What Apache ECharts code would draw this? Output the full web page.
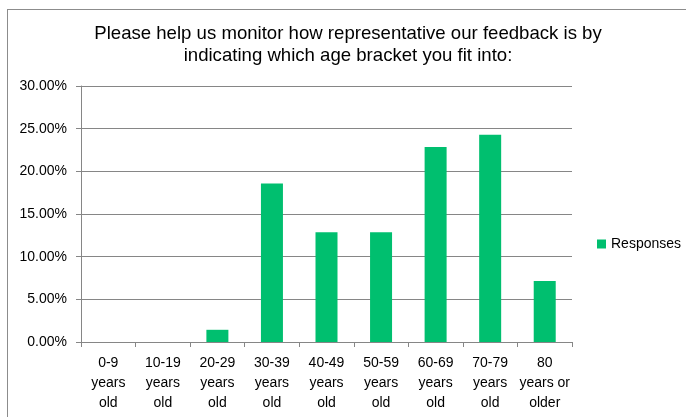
<!DOCTYPE html>
<html><head><meta charset="utf-8">
<script src="https://cdn.jsdelivr.net/npm/echarts@6/dist/echarts.min.js"></script>
<style>html,body{margin:0;padding:0;background:#fff;overflow:hidden}
#wrap{position:relative;width:686px;height:417px}
#frame{position:absolute;left:7px;top:9px;width:700px;height:420px;border-left:1px solid #8c8c8c;border-top:1px solid #8c8c8c}
#c{position:absolute;left:0;top:0;width:686px;height:417px}</style>
</head><body><div id="wrap"><div id="frame"></div><div id="c"></div></div>
<script>
const categories = ["0-9\nyears\nold","10-19\nyears\nold","20-29\nyears\nold","30-39\nyears\nold","40-49\nyears\nold","50-59\nyears\nold","60-69\nyears\nold","70-79\nyears\nold","80\nyears or\nolder"];
const responses = [0, 0, 1.43, 18.57, 12.86, 12.86, 22.86, 24.29, 7.14];
const yTicks = {min: 0, max: 30, interval: 5};
const titleText = "Please help us monitor how representative our feedback is by\nindicating which age bracket you fit into:";
const seriesName = "Responses";

const chart = echarts.init(document.getElementById('c'), null, {renderer: 'canvas'});
const F = "'Liberation Sans', Arial, sans-serif";
chart.setOption({
  animation: false,
  title: {text: titleText, left: 343, top: 18, textAlign: 'center',
    textStyle: {fontFamily: F, fontSize: 18.6, fontWeight: 'normal', color: '#000', lineHeight: 22}},
  legend: {data: [seriesName], left: 597, top: 237, padding: 0, itemWidth: 9, itemHeight: 9, itemGap: 4,
    textStyle: {fontFamily: F, fontSize: 14, color: '#000'}, icon: 'rect'},
  grid: {left: 81, right: 114, top: 86, bottom: 75, containLabel: false},
  xAxis: {type: 'category', data: categories, boundaryGap: true,
    axisLine: {lineStyle: {color: '#868686'}},
    axisTick: {show: true, alignWithLabel: false, length: 5, lineStyle: {color: '#868686'}},
    axisLabel: {fontFamily: F, fontSize: 14, color: '#000', lineHeight: 20, margin: 11, interval: 0}},
  yAxis: {type: 'value', min: yTicks.min, max: yTicks.max, interval: yTicks.interval,
    axisLine: {show: true, lineStyle: {color: '#868686'}},
    axisTick: {show: true, length: 5, lineStyle: {color: '#868686'}},
    splitLine: {lineStyle: {color: '#868686'}},
    axisLabel: {fontFamily: F, fontSize: 14, color: '#000', margin: 14,
      formatter: v => v.toFixed(2) + '%'}},
  series: [{name: seriesName, type: 'bar', data: responses, barWidth: 22,
    itemStyle: {color: '#00BF6F'}}]
});
</script></body></html>
